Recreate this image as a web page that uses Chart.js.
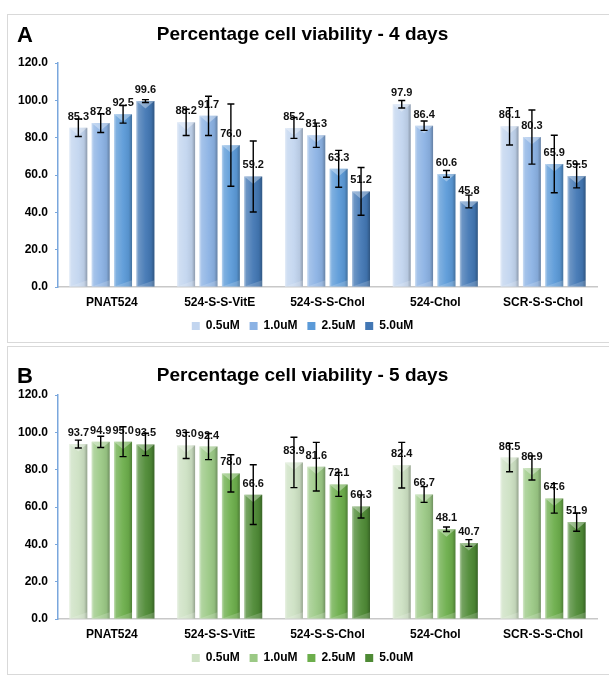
<!DOCTYPE html>
<html><head><meta charset="utf-8">
<script src="https://cdn.jsdelivr.net/npm/chart.js@4.4.1/dist/chart.umd.min.js"></script>
<style>
html,body{margin:0;padding:0;background:#fff;width:609px;height:676px;overflow:hidden;font-family:"Liberation Sans",Arial,sans-serif;}
.panel{position:absolute;left:7px;width:640px;border:1px solid #d9d9d9;background:#fff;}
.panel canvas{position:absolute;left:0;top:0;}
.lbl{position:absolute;left:9px;font:bold 22px "Liberation Sans",Arial,sans-serif;color:#000;line-height:22px;}
</style></head><body>
<div class="panel" style="top:14px;height:327px;"><canvas id="cA" width="601" height="327"></canvas><div class="lbl" style="top:9px">A</div></div>
<div class="panel" style="top:346px;height:327px;"><canvas id="cB" width="601" height="327"></canvas><div class="lbl" style="top:18px">B</div></div>
<script>
// ---- data ----
const categories = ['PNAT524', '524-S-S-VitE', '524-S-S-Chol', '524-Chol', 'SCR-S-S-Chol'];
const concentrations = ['0.5uM', '1.0uM', '2.5uM', '5.0uM'];
const yTickValues = [0, 20, 40, 60, 80, 100, 120];

const day4_05 = [85.3, 88.2, 85.2, 97.9, 86.1];
const day4_10 = [87.8, 91.7, 81.3, 86.4, 80.3];
const day4_25 = [92.5, 76.0, 63.3, 60.6, 65.9];
const day4_50 = [99.6, 59.2, 51.2, 45.8, 59.5];
const day4_err05 = [4.7, 7.0, 5.6, 2.0, 10.0];
const day4_err10 = [5.0, 10.5, 6.5, 2.5, 14.5];
const day4_err25 = [4.7, 22.0, 9.9, 1.8, 15.4];
const day4_err50 = [0.8, 19.0, 12.8, 3.4, 6.4];

const day5_05 = [93.7, 93.0, 83.9, 82.4, 86.5];
const day5_10 = [94.9, 92.4, 81.6, 66.7, 80.9];
const day5_25 = [95.0, 78.0, 72.1, 48.1, 64.6];
const day5_50 = [93.5, 66.6, 60.3, 40.7, 51.9];
const day5_err05 = [2.1, 7.0, 13.5, 12.2, 7.6];
const day5_err10 = [3.0, 7.0, 13.0, 4.2, 6.4];
const day5_err25 = [8.0, 10.0, 6.4, 1.2, 7.9];
const day5_err50 = [6.0, 16.0, 6.2, 1.8, 4.9];

const blueColors = ['#c2d5ef', '#8bb2e4', '#5b9ad8', '#4277b4'];
const greenColors = ['#cde1c3', '#9bc985', '#6cae4b', '#4e8a35'];

const FONT = '"Liberation Sans", Arial, sans-serif';

// bar shading (3D-like look) drawn over library bars
const shadePlugin = {
  id: 'shade',
  afterDatasetDraw(chart, args) {
    const ctx = chart.ctx;
    ctx.save();
    args.meta.data.forEach(el => {
      const p = el.getProps(['x', 'y', 'base', 'width'], true);
      const l = p.x - p.width / 2, r = p.x + p.width / 2;
      const g = ctx.createLinearGradient(l, 0, r, 0);
      g.addColorStop(0, 'rgba(255,255,255,0.55)');
      g.addColorStop(0.12, 'rgba(255,255,255,0.22)');
      g.addColorStop(0.5, 'rgba(255,255,255,0.05)');
      g.addColorStop(0.82, 'rgba(0,0,0,0.06)');
      g.addColorStop(1, 'rgba(0,0,0,0.28)');
      ctx.fillStyle = g;
      ctx.fillRect(l, p.y, p.width, p.base - p.y);
      ctx.beginPath();
      ctx.moveTo(l, p.y); ctx.lineTo(r, p.y); ctx.lineTo(p.x, p.y + p.width * 0.42); ctx.closePath();
      ctx.fillStyle = 'rgba(255,255,255,0.35)';
      ctx.fill();
      ctx.beginPath();
      ctx.moveTo(l, p.base); ctx.lineTo(r, p.base); ctx.lineTo(r, p.base - p.width * 0.35); ctx.closePath();
      ctx.fillStyle = 'rgba(255,255,255,0.18)';
      ctx.fill();
    });
    ctx.restore();
  }
};

// value labels and error bars
const annotPlugin = {
  id: 'annot',
  afterDatasetsDraw(chart) {
    const ctx = chart.ctx;
    const ys = chart.scales.y;
    ctx.save();
    chart.data.datasets.forEach((ds, di) => {
      const meta = chart.getDatasetMeta(di);
      meta.data.forEach((el, i) => {
        const v = ds.data[i];
        ctx.font = 'bold 11px ' + FONT;
        ctx.fillStyle = '#111';
        ctx.textAlign = 'center';
        ctx.textBaseline = 'alphabetic';
        ctx.fillText(v.toFixed(1), el.x, el.y - 8);
      });
    });
    chart.data.datasets.forEach((ds, di) => {
      const meta = chart.getDatasetMeta(di);
      meta.data.forEach((el, i) => {
        const v = ds.data[i], e = ds.errors[i];
        const t = ys.getPixelForValue(v + e), b = ys.getPixelForValue(v - e);
        ctx.strokeStyle = '#000';
        ctx.lineWidth = 1.4;
        ctx.beginPath();
        ctx.moveTo(el.x, t); ctx.lineTo(el.x, b);
        ctx.moveTo(el.x - 3.5, t); ctx.lineTo(el.x + 3.5, t);
        ctx.moveTo(el.x - 3.5, b); ctx.lineTo(el.x + 3.5, b);
        ctx.stroke();
      });
    });
    ctx.restore();
  }
};

function makeChart(id, title, series, errs, colors, titlePad) {
  return new Chart(document.getElementById(id), {
    type: 'bar',
    data: {
      labels: categories,
      datasets: concentrations.map((c, k) => ({
        label: c,
        data: series[k],
        errors: errs[k],
        backgroundColor: colors[k],
        borderWidth: 0,
        categoryPercentage: 0.83,
        barPercentage: 0.8
      }))
    },
    options: {
      responsive: false,
      animation: false,
      layout: { padding: { left: 0, right: 12, top: 0, bottom: 0 } },
      plugins: {
        title: {
          display: true, text: title, color: '#000',
          font: { family: FONT, size: 19, weight: 'bold', lineHeight: 1.2 },
          padding: titlePad
        },
        legend: {
          position: 'bottom',
          labels: {
            color: '#000', boxWidth: 8, boxHeight: 8, padding: 9.8,
            font: { family: FONT, size: 12, weight: 'bold' }
          }
        },
        tooltip: { enabled: false }
      },
      scales: {
        x: {
          afterFit(scale) { scale.height = 23.2; },
          grid: { display: false, drawTicks: false },
          border: { display: true, color: '#c8c8c8', width: 1.5 },
          ticks: { color: '#000', padding: 8.8, font: { family: FONT, size: 12, weight: 'bold' } }
        },
        y: {
          min: 0, max: 120,
          afterFit(scale) { scale.width = 50; },
          afterBuildTicks(scale) { scale.ticks = yTickValues.map(v => ({ value: v })); },
          grid: { display: true, drawOnChartArea: false, drawTicks: true, tickLength: 3, color: '#7aa7dd' },
          border: { display: true, color: '#7aa7dd', width: 1.5 },
          ticks: {
            color: '#000', padding: 7,
            font: { family: FONT, size: 12, weight: 'bold' },
            callback: v => Number(v).toFixed(1)
          }
        }
      }
    },
    plugins: [shadePlugin, annotPlugin]
  });
}

makeChart('cA', 'Percentage cell viability - 4 days',
  [day4_05, day4_10, day4_25, day4_50],
  [day4_err05, day4_err10, day4_err25, day4_err50],
  blueColors, { top: 8.6, bottom: 16.6 });
makeChart('cB', 'Percentage cell viability - 5 days',
  [day5_05, day5_10, day5_25, day5_50],
  [day5_err05, day5_err10, day5_err25, day5_err50],
  greenColors, { top: 17.6, bottom: 7.6 });
</script>
</body></html>
